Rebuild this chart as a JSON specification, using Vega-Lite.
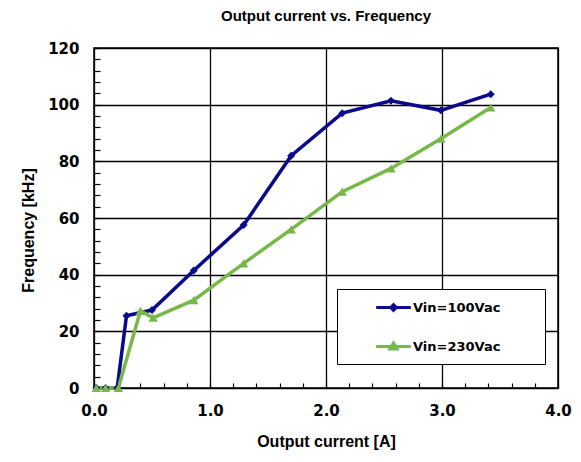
{
  "$schema": "https://vega.github.io/schema/vega-lite/v6.json",
  "width": 464,
  "height": 340,
  "autosize": {"type": "none"},
  "padding": {"left": 94, "top": 48, "right": 23, "bottom": 74},
  "background": "white",
  "config": {
    "font": "Liberation Sans",
    "view": {"stroke": "#000", "strokeWidth": 1.5},
    "axis": {"domain": false, "ticks": true, "zindex": 1, "labelFont": "DejaVu Sans", "titleFont": "Liberation Sans", "labelFontWeight": "bold", "titleFontWeight": "bold", "labelColor": "#000", "titleColor": "#000", "labelFontSize": 15, "titleFontSize": 16, "tickColor": "#000", "gridColor": "#000", "gridWidth": 1.3, "tickWidth": 1.2, "labelFlush": false}
  },
  "title": {"text": "Output current vs. Frequency", "fontSize": 15, "fontWeight": "bold", "font": "Liberation Sans", "color": "#000", "anchor": "middle", "offset": 17},
  "data": {"values": [
    {"s": "Vin=100Vac", "x": 0.02, "y": 0},
    {"s": "Vin=100Vac", "x": 0.1, "y": 0},
    {"s": "Vin=100Vac", "x": 0.2, "y": 0},
    {"s": "Vin=100Vac", "x": 0.28, "y": 25.5},
    {"s": "Vin=100Vac", "x": 0.5, "y": 27.5},
    {"s": "Vin=100Vac", "x": 0.86, "y": 41.5},
    {"s": "Vin=100Vac", "x": 1.29, "y": 57.5},
    {"s": "Vin=100Vac", "x": 1.7, "y": 82},
    {"s": "Vin=100Vac", "x": 2.14, "y": 97},
    {"s": "Vin=100Vac", "x": 2.56, "y": 101.4},
    {"s": "Vin=100Vac", "x": 2.99, "y": 98},
    {"s": "Vin=100Vac", "x": 3.42, "y": 103.7},
    {"s": "Vin=230Vac", "x": 0.02, "y": 0},
    {"s": "Vin=230Vac", "x": 0.1, "y": 0},
    {"s": "Vin=230Vac", "x": 0.21, "y": 0},
    {"s": "Vin=230Vac", "x": 0.4, "y": 27.2},
    {"s": "Vin=230Vac", "x": 0.51, "y": 24.8},
    {"s": "Vin=230Vac", "x": 0.86, "y": 31},
    {"s": "Vin=230Vac", "x": 1.29, "y": 44},
    {"s": "Vin=230Vac", "x": 1.7, "y": 56},
    {"s": "Vin=230Vac", "x": 2.14, "y": 69.3},
    {"s": "Vin=230Vac", "x": 2.56, "y": 77.5},
    {"s": "Vin=230Vac", "x": 2.99, "y": 88},
    {"s": "Vin=230Vac", "x": 3.42, "y": 99}
  ]},
  "encoding": {
    "x": {"field": "x", "type": "quantitative", "scale": {"domain": [0, 4], "nice": false},
      "axis": {"title": "Output current [A]", "values": [0,0.2,0.4,0.6,0.8,1,1.2,1.4,1.6,1.8,2,2.2,2.4,2.6,2.8,3,3.2,3.4,3.6,3.8,4],
        "labelExpr": "abs(datum.value - round(datum.value)) < 0.001 ? format(datum.value, '.1f') : ''",
        "gridOpacity": {"condition": {"test": "abs(datum.value - round(datum.value)) < 0.001", "value": 1}, "value": 0},
        "tickSize": -5, "labelPadding": 20, "titlePadding": 15}},
    "y": {"field": "y", "type": "quantitative", "scale": {"domain": [0, 120], "nice": false},
      "axis": {"title": "Frequency [kHz]", "values": [0,4,8,12,16,20,24,28,32,36,40,44,48,52,56,60,64,68,72,76,80,84,88,92,96,100,104,108,112,116,120],
        "labelExpr": "datum.value % 20 == 0 ? format(datum.value, 'd') : ''",
        "gridOpacity": {"condition": {"test": "datum.value % 20 == 0", "value": 1}, "value": 0},
        "tickSize": -6, "labelPadding": 21, "titlePadding": 11, "titleY": 182}},
    "color": {"field": "s", "type": "nominal", "scale": {"domain": ["Vin=100Vac", "Vin=230Vac"], "range": ["#0a0a8a", "#78b848"]},
      "legend": {"title": " ", "titleOrient": "right", "titlePadding": 37, "orient": "none", "legendX": 243, "legendY": 241, "fillColor": "white", "strokeColor": "#000", "padding": 8,
        "symbolSize": 300, "symbolOffset": 38, "labelOffset": 9, "rowPadding": 19, "labelFontSize": 13, "labelFontWeight": "bold", "labelFont": "DejaVu Sans", "labelColor": "#000", "symbolStrokeWidth": 3,
        "encode": {
          "symbols": {"update": {"shape": {"signal": "datum.value == 'Vin=100Vac' ? 'M-2,0H2M-0.33,0L0,-0.33L0.33,0L0,0.33Z' : 'M-2,0H2M-0.42,0.3L0,-0.4L0.42,0.3Z'"}}}}}}
  },
  "layer": [
    {"mark": {"type": "line", "strokeWidth": 3.5}},
    {"transform": [{"filter": "datum.s == 'Vin=100Vac'"}], "mark": {"type": "point", "shape": "diamond", "filled": true, "opacity": 1, "size": 64}},
    {"transform": [{"filter": "datum.s == 'Vin=230Vac'"}], "mark": {"type": "point", "shape": "triangle-up", "filled": true, "opacity": 1, "size": 90}}
  ]
}
